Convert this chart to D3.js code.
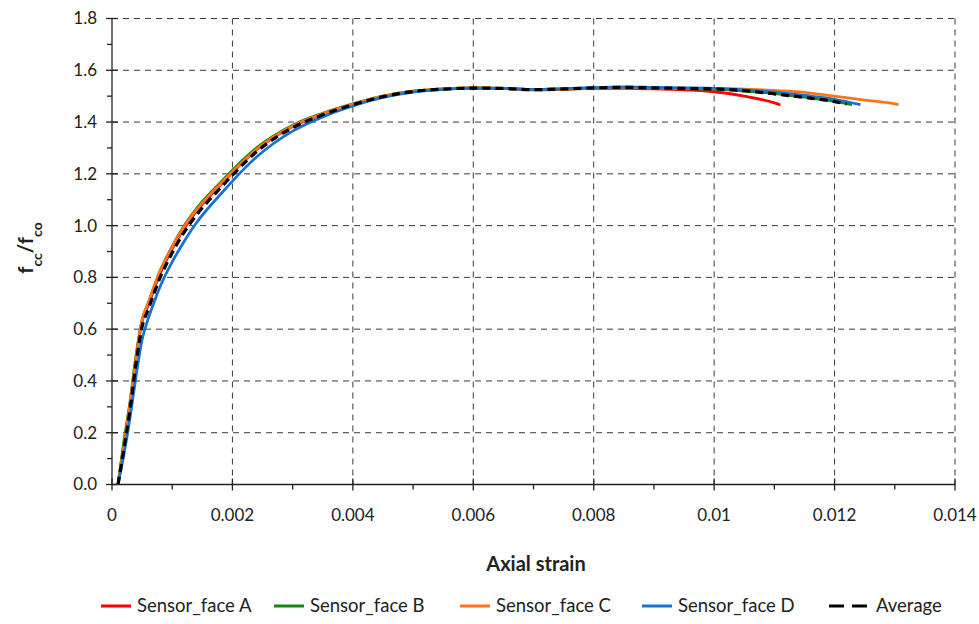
<!DOCTYPE html>
<html>
<head>
<meta charset="utf-8">
<script src="https://cdn.jsdelivr.net/npm/d3@7"></script>
<style>
  body { margin: 0; background: #fff; }
  svg { display: block; font-family: Lato, "Open Sans", sans-serif; }
  .tick-label { font-size: 17px; fill: #222; }
  .axis-title { font-size: 20px; font-weight: bold; fill: #222; }
  .legend-text { font-size: 18.5px; fill: #222; }
</style>
</head>
<body>
<svg id="chart" width="979" height="624"></svg>
<script>
// strain values shared by every series
const strain = [0.0001, 0.0002, 0.0003, 0.0004, 0.0005, 0.0006, 0.0007, 0.0008, 0.0009, 0.001, 0.0012, 0.0014,
  0.0016, 0.0018, 0.002, 0.0024, 0.003, 0.0035, 0.004, 0.0045, 0.005, 0.0055, 0.006, 0.0065, 0.007, 0.0075,
  0.008, 0.0085, 0.009, 0.0095, 0.01, 0.0105, 0.011, 0.0115, 0.012, 0.0125, 0.013];

const sensorA = [0, 0.16, 0.31, 0.49, 0.63, 0.69, 0.755, 0.815, 0.865, 0.91, 0.99, 1.055, 1.108, 1.157, 1.205,
  1.293, 1.383, 1.43, 1.468, 1.499, 1.518, 1.527, 1.531, 1.53, 1.524, 1.526, 1.53, 1.53, 1.528, 1.524, 1.517,
  1.5, 1.474];
const sensorB = [0, 0.17, 0.32, 0.5, 0.635, 0.7, 0.765, 0.825, 0.875, 0.92, 1.0, 1.065, 1.118, 1.166, 1.214,
  1.3, 1.388, 1.434, 1.47, 1.5, 1.519, 1.528, 1.532, 1.53, 1.525, 1.527, 1.531, 1.533, 1.531, 1.529, 1.527,
  1.52, 1.51, 1.496, 1.48];
const sensorC = [0, 0.15, 0.31, 0.49, 0.635, 0.7, 0.765, 0.825, 0.873, 0.917, 0.997, 1.06, 1.113, 1.16, 1.208,
  1.295, 1.385, 1.432, 1.469, 1.5, 1.519, 1.528, 1.532, 1.53, 1.525, 1.528, 1.532, 1.534, 1.532, 1.53, 1.53,
  1.527, 1.522, 1.515, 1.5, 1.485, 1.47];
const sensorD = [0, 0.12, 0.26, 0.42, 0.56, 0.64, 0.705, 0.765, 0.815, 0.86, 0.94, 1.01, 1.068, 1.12, 1.172,
  1.265, 1.365, 1.42, 1.462, 1.495, 1.516, 1.526, 1.531, 1.53, 1.526, 1.529, 1.533, 1.536, 1.534, 1.532, 1.53,
  1.524, 1.516, 1.503, 1.488];
const average = [0, 0.14, 0.29, 0.47, 0.61, 0.675, 0.74, 0.8, 0.85, 0.895, 0.975, 1.04, 1.095, 1.145, 1.195,
  1.285, 1.378, 1.428, 1.467, 1.498, 1.518, 1.527, 1.531, 1.53, 1.525, 1.528, 1.532, 1.534, 1.532, 1.53, 1.528,
  1.521, 1.509, 1.495, 1.479];

// last recorded point of each curve
const sensorAEnd = [0.0111, 1.466];
const sensorBEnd = [0.01229, 1.467];
const sensorCEnd = [0.01306, 1.467];
const sensorDEnd = [0.01243, 1.467];
const averageEnd = [0.0122, 1.47];

const seriesNames = ['Sensor_face A', 'Sensor_face B', 'Sensor_face C', 'Sensor_face D', 'Average'];
const seriesColors = ['#ff0000', '#138a13', '#ff7419', '#1673d2', '#000000'];

const xTicks = [0, 0.002, 0.004, 0.006, 0.008, 0.01, 0.012, 0.014];
const xTickLabels = ['0', '0.002', '0.004', '0.006', '0.008', '0.01', '0.012', '0.014'];
const yTicks = [0, 0.2, 0.4, 0.6, 0.8, 1.0, 1.2, 1.4, 1.6, 1.8];

const svg = d3.select('#chart');
const plotLeft = 112, plotRight = 955, plotTop = 18.5, plotBottom = 484.5;

const x = d3.scaleLinear().domain([0, 0.014]).range([plotLeft, plotRight]);
const y = d3.scaleLinear().domain([0, 1.8]).range([plotBottom, plotTop]);

// dashed grid
const grid = svg.append('g').attr('stroke', '#3a3a3a').attr('stroke-width', 1).attr('stroke-dasharray', '6,5');
xTicks.slice(1).forEach((t) => {
  grid.append('line').attr('x1', x(t)).attr('x2', x(t)).attr('y1', plotTop).attr('y2', plotBottom);
});
yTicks.slice(1).forEach((t) => {
  grid.append('line').attr('x1', plotLeft).attr('x2', plotRight).attr('y1', y(t)).attr('y2', y(t));
});

// axes
const axes = svg.append('g').attr('stroke', '#222').attr('stroke-width', 1.3);
axes.append('line').attr('x1', plotLeft).attr('x2', plotLeft).attr('y1', plotTop).attr('y2', plotBottom);
axes.append('line').attr('x1', plotLeft).attr('x2', plotRight).attr('y1', plotBottom).attr('y2', plotBottom);
yTicks.forEach((t) => {
  axes.append('line').attr('x1', plotLeft - 6).attr('x2', plotLeft + 6).attr('y1', y(t)).attr('y2', y(t));
  if (t < 1.8) axes.append('line').attr('x1', plotLeft - 5).attr('x2', plotLeft).attr('y1', y(t + 0.1)).attr('y2', y(t + 0.1));
});
xTicks.forEach((t, i) => {
  axes.append('line').attr('x1', x(t)).attr('x2', x(t)).attr('y1', plotBottom - 6).attr('y2', plotBottom + 6);
  if (i < xTicks.length - 1) {
    const m = t + 0.001;
    axes.append('line').attr('x1', x(m)).attr('x2', x(m)).attr('y1', plotBottom).attr('y2', plotBottom + 5);
  }
});

svg.append('g').selectAll('text').data(yTicks).join('text')
  .attr('class', 'tick-label')
  .attr('x', plotLeft - 15)
  .attr('y', (d) => y(d))
  .attr('dy', '0.35em')
  .attr('text-anchor', 'end')
  .text((d) => d.toFixed(1));

svg.append('g').selectAll('text').data(xTicks).join('text')
  .attr('class', 'tick-label')
  .attr('x', (d) => x(d))
  .attr('y', 521)
  .attr('text-anchor', 'middle')
  .text((d, i) => xTickLabels[i]);

// axis titles
svg.append('text').attr('class', 'axis-title').attr('x', 536).attr('y', 571)
  .attr('text-anchor', 'middle').text('Axial strain');

const yTitle = svg.append('text').attr('class', 'axis-title')
  .attr('transform', 'translate(33,248) rotate(-90)')
  .attr('text-anchor', 'middle');
yTitle.append('tspan').text('f');
yTitle.append('tspan').attr('baseline-shift', 'sub').attr('font-size', '14px').text('cc');
yTitle.append('tspan').text('/f');
yTitle.append('tspan').attr('baseline-shift', 'sub').attr('font-size', '14px').text('co');

// curves
const line = d3.line().x((d) => x(d[0])).y((d) => y(d[1])).curve(d3.curveMonotoneX);
const pairs = (vals) => vals.map((v, i) => [strain[i], v]);

const curveData = [
  pairs(sensorA).concat([sensorAEnd]),
  pairs(sensorB).concat([sensorBEnd]),
  pairs(sensorC).concat([sensorCEnd]),
  pairs(sensorD).concat([sensorDEnd]),
  pairs(average).concat([averageEnd]),
];
const drawOrder = [0, 1, 2, 3, 4];
const curves = svg.append('g').attr('fill', 'none');
drawOrder.forEach((i) => {
  curves.append('path')
    .attr('d', line(curveData[i]))
    .attr('stroke', seriesColors[i])
    .attr('stroke-width', i === 4 ? 3.2 : 2.8)
    .attr('stroke-dasharray', i === 4 ? '8,5' : null);
});

// legend
const legendX = [101, 274, 460, 642, 829];
const legend = svg.append('g');
seriesNames.forEach((name, i) => {
  const g = legend.append('g').attr('transform', `translate(${legendX[i]},606)`);
  g.append('line').attr('x1', 0).attr('x2', i === 4 ? 41 : 30).attr('y1', 0).attr('y2', 0)
    .attr('stroke', seriesColors[i]).attr('stroke-width', 3)
    .attr('stroke-dasharray', i === 4 ? '15,8' : null);
  g.append('text').attr('class', 'legend-text').attr('x', i === 4 ? 47 : 36).attr('dy', '0.35em').text(name);
});
</script>
</body>
</html>
